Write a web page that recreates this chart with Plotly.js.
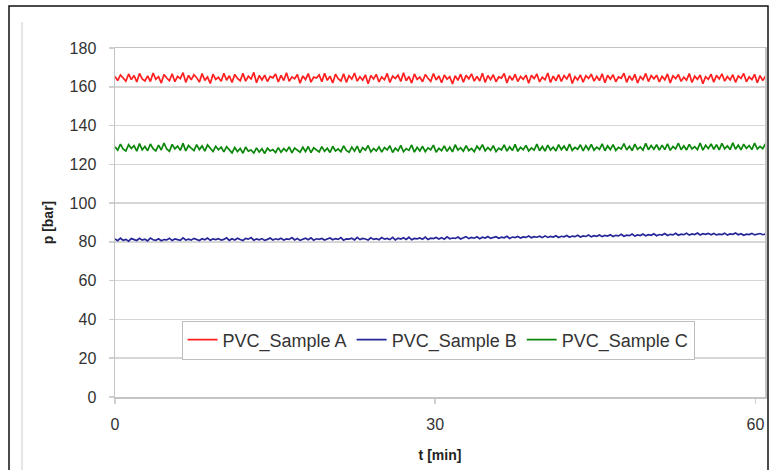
<!DOCTYPE html>
<html>
<head>
<meta charset="utf-8">
<script src="https://cdn.plot.ly/plotly-3.0.1.min.js"></script>
<style>html,body{margin:0;padding:0;background:#fff;}#chart{width:769px;height:470px;}</style>
</head>
<body>
<div id="chart"></div>
<script>
// sampling interval of the recorded pressure data [min]
const tStep = 0.255;

const seriesNames = ["PVC_Sample A", "PVC_Sample B", "PVC_Sample C"];

const sampleA = [
165.3,163.2,166.1,164.4,162.9,166.6,163.7,165.8,162.5,166.9,164.1,163.0,165.6,162.7,167.1,163.9,165.2,161.9,166.3,164.5,
163.1,166.7,162.6,165.4,164.2,167.3,162.3,165.9,163.6,166.2,164.7,162.4,166.8,163.3,165.1,161.7,166.5,163.8,164.9,162.8,
167.0,163.4,165.7,162.2,166.4,164.3,163.1,166.9,162.9,165.5,164.0,167.4,162.1,165.8,163.5,166.0,162.7,165.3,164.6,166.6,
162.5,165.9,163.2,167.2,162.8,165.1,164.1,166.3,161.8,165.6,163.7,166.8,162.4,165.0,164.5,166.1,162.6,167.0,163.3,165.4,
162.0,166.5,164.2,163.0,166.7,162.3,165.7,163.9,167.1,162.9,165.2,163.4,166.2,161.6,165.8,164.0,166.4,162.5,165.1,163.6,
166.9,162.2,165.5,164.3,166.0,162.7,167.2,163.1,165.3,161.9,166.6,163.8,165.0,162.6,166.3,164.4,162.8,166.8,163.5,165.6,
162.1,166.1,163.9,165.2,161.5,165.7,163.3,166.5,162.4,165.9,164.1,166.7,162.9,165.4,163.0,167.0,162.3,165.8,163.7,166.2,
162.6,165.1,164.5,166.9,162.0,165.6,163.4,166.4,162.7,165.3,163.8,166.0,161.8,165.9,164.2,166.6,162.5,165.0,163.6,167.1,
162.2,165.5,163.1,166.3,162.8,165.8,164.0,166.8,161.7,165.2,163.5,166.1,162.4,165.7,164.3,166.5,162.9,165.4,163.2,166.7,
162.1,165.9,163.9,166.2,162.6,165.1,164.4,167.0,162.3,165.6,163.3,166.4,161.9,165.3,163.7,166.9,162.7,165.8,164.1,166.0,
162.5,165.4,163.6,166.6,162.0,165.7,164.2,166.3,162.8,165.0,163.4,166.8,162.2,165.5,163.9,166.1,161.6,165.2,163.8,166.5,
162.4,165.9,164.0,166.7,162.9,165.3,163.5,166.2,162.3,165.6,164.3,166.9,162.6,165.1,163.7,166.4,162.1,165.8,163.2,165.5
];

const sampleB = [
81.5,80.6,81.9,80.8,81.3,80.4,81.7,81.0,80.7,81.8,80.9,81.4,80.5,82.0,81.1,80.8,81.6,80.6,81.2,81.0,
81.9,80.7,81.5,81.2,80.8,82.1,81.0,81.4,80.9,81.8,81.3,80.7,81.6,81.1,82.0,80.8,81.5,81.2,81.7,80.9,
81.3,82.1,80.8,81.6,81.0,81.9,81.2,80.7,81.8,81.4,82.2,80.9,81.5,81.1,81.7,80.8,81.3,82.0,81.0,81.6,
81.2,81.9,80.9,81.5,81.3,82.2,81.0,81.7,80.8,81.4,81.9,81.1,82.1,80.9,81.6,81.3,81.8,81.0,81.5,82.0,
81.1,81.7,81.3,82.2,80.9,81.6,81.4,81.9,81.0,82.3,81.2,81.8,81.5,81.0,82.1,81.3,81.7,81.1,82.2,81.4,
81.8,81.2,82.3,81.0,81.9,81.5,82.1,81.3,82.4,81.1,81.8,81.6,82.0,81.4,82.5,81.2,81.9,81.7,82.3,81.5,
82.2,81.4,82.6,81.6,82.0,81.8,82.5,81.5,82.1,82.7,81.7,82.3,81.9,82.6,81.6,82.4,82.0,82.8,81.8,82.2,
82.7,81.9,82.4,82.1,82.9,81.8,82.5,82.2,82.8,82.0,82.6,82.3,83.0,82.1,82.7,82.4,82.9,82.2,83.1,82.3,
82.8,82.5,83.2,82.3,82.9,82.6,83.3,82.4,83.0,82.7,83.4,82.5,83.1,82.8,83.5,82.6,83.2,82.9,83.6,82.7,
83.3,83.0,83.7,82.8,83.4,83.1,83.9,82.9,83.5,83.2,84.0,83.0,83.6,83.3,84.1,83.1,83.7,83.4,84.2,83.2,
83.8,83.5,84.3,83.3,83.9,83.6,84.4,83.4,84.0,83.7,84.5,83.5,84.1,83.8,84.6,83.6,84.2,83.9,84.4,83.7,
84.3,83.6,84.0,83.8,84.5,83.5,84.1,83.9,84.6,83.7,84.2,83.4,84.0,83.8,84.4,83.6,83.9,84.3,83.7,84.1
];

const sampleC = [
129.0,127.3,130.4,127.8,126.9,130.1,128.2,129.6,126.8,130.7,127.5,129.2,127.0,130.5,128.1,126.9,129.9,127.4,131.0,127.9,
126.7,130.3,128.0,129.4,127.2,130.8,126.9,129.7,128.3,127.1,130.2,127.6,129.5,126.8,130.0,128.0,126.6,129.3,127.5,128.9,
126.4,129.1,127.2,125.9,128.7,126.6,128.2,125.7,128.9,126.8,127.4,125.8,128.5,126.3,128.0,125.6,128.3,126.9,127.6,126.1,
128.6,126.2,128.1,126.8,129.0,125.9,128.4,127.1,126.3,128.8,126.6,129.2,126.0,128.5,127.3,126.4,129.1,126.7,128.3,126.1,
129.3,126.9,128.0,126.5,129.5,127.2,126.2,128.9,126.8,129.4,126.0,128.6,127.3,129.7,126.4,128.2,126.9,129.0,126.3,128.7,
127.4,129.6,126.1,128.4,127.0,129.8,126.5,128.1,127.2,130.0,126.3,128.8,126.9,129.3,126.6,128.5,127.5,129.9,126.2,128.3,
127.1,129.5,126.7,128.9,126.4,130.1,127.3,128.6,126.8,129.7,127.0,128.2,126.5,129.4,127.6,130.2,126.9,128.7,127.2,129.6,
126.6,128.4,127.4,130.0,126.8,129.1,127.1,130.3,126.7,128.8,127.5,129.8,126.9,128.5,127.3,130.4,127.0,129.2,126.8,129.9,
127.4,128.9,126.9,130.2,127.6,129.4,127.1,130.5,127.2,128.7,127.8,130.1,126.9,129.6,127.5,130.3,127.3,128.9,127.7,130.6,
127.0,129.5,127.6,130.2,127.2,128.8,127.9,130.7,127.4,129.3,127.1,130.4,127.7,129.0,127.3,130.8,127.5,129.7,127.8,130.1,
127.3,129.9,127.6,130.6,127.2,129.2,128.0,130.9,127.5,129.6,127.4,130.3,127.9,129.1,127.6,131.0,127.3,129.8,128.1,130.5,
127.7,130.2,127.4,130.8,128.0,129.5,127.6,131.1,127.8,129.9,127.5,130.4,128.2,129.7,127.6,130.9,127.9,129.3,128.1,130.6
];

const xTickVals = [0, 30, 60];
const xTickText = ["0", "30", "60"];
const yTickVals = [0, 20, 40, 60, 80, 100, 120, 140, 160, 180];

const colors = ["#ff1f1f", "#262699", "#0a870a"];
const values = [sampleA, sampleB, sampleC];

const traces = values.map((v, k) => ({
  x: v.map((_, i) => +(i * tStep).toFixed(3)), y: v,
  type: "scatter", mode: "lines",
  name: seriesNames[k],
  line: {color: colors[k], width: 1.7}
}));

// pixel helpers for decorative frame (plot area: 115..765 x, 48..397 y)
const L = 115, R = 765, T = 48, B = 397;
const px = p => (p - L) / (R - L);
const py = p => (B - p) / (B - T);

const layout = {
  width: 769, height: 470,
  margin: {l: L, r: 769 - R, t: T, b: 470 - B},
  paper_bgcolor: "#ffffff", plot_bgcolor: "#ffffff",
  font: {family: "Liberation Sans, Arial, sans-serif", color: "#333333", size: 16},
  showlegend: true,
  legend: {
    orientation: "h", x: 0.497, xanchor: "center", y: py(340), yanchor: "middle",
    bgcolor: "#ffffff", bordercolor: "#bdbdbd", borderwidth: 1,
    font: {size: 18, color: "#333333"}, itemwidth: 30, tracegroupgap: 0
  },
  xaxis: {
    range: [0, 60.9], tickvals: xTickVals, ticktext: xTickText,
    showgrid: false, zeroline: false,
    showline: true, mirror: true, linecolor: "#c4c4c4", linewidth: 1.5,
    ticks: "outside", ticklen: 5, tickcolor: "#d0d0d0", tickwidth: 1.5,
    ticklabelstandoff: 7,
    tickfont: {size: 16, color: "#333333"},
    title: {text: "<b>t [min]</b>", font: {size: 14, color: "#222222"}, standoff: 18}
  },
  yaxis: {
    range: [0, 180], tickvals: yTickVals,
    showgrid: true, gridcolor: "#d6d6d6", gridwidth: 1.5,
    zeroline: false,
    showline: true, mirror: true, linecolor: "#c4c4c4", linewidth: 1.5,
    ticks: "outside", ticklen: 5, tickcolor: "#d0d0d0", tickwidth: 1.5,
    ticklabelstandoff: 9,
    tickfont: {size: 16, color: "#333333"},
    title: {text: "<b>p [bar]</b>", font: {size: 14, color: "#222222"}, standoff: 12}
  },
  shapes: [
    {type: "rect", xref: "paper", yref: "paper",
     x0: px(9), x1: px(768), y0: py(480), y1: py(6),
     line: {color: "#111111", width: 1.5}, fillcolor: "rgba(0,0,0,0)", layer: "above"},
    {type: "line", xref: "paper", yref: "paper",
     x0: px(22), x1: px(22), y0: py(480), y1: py(22),
     line: {color: "#dcdcdc", width: 1.5}}
  ]
};

Plotly.newPlot("chart", traces, layout, {staticPlot: true, displayModeBar: false});
</script>
</body>
</html>
